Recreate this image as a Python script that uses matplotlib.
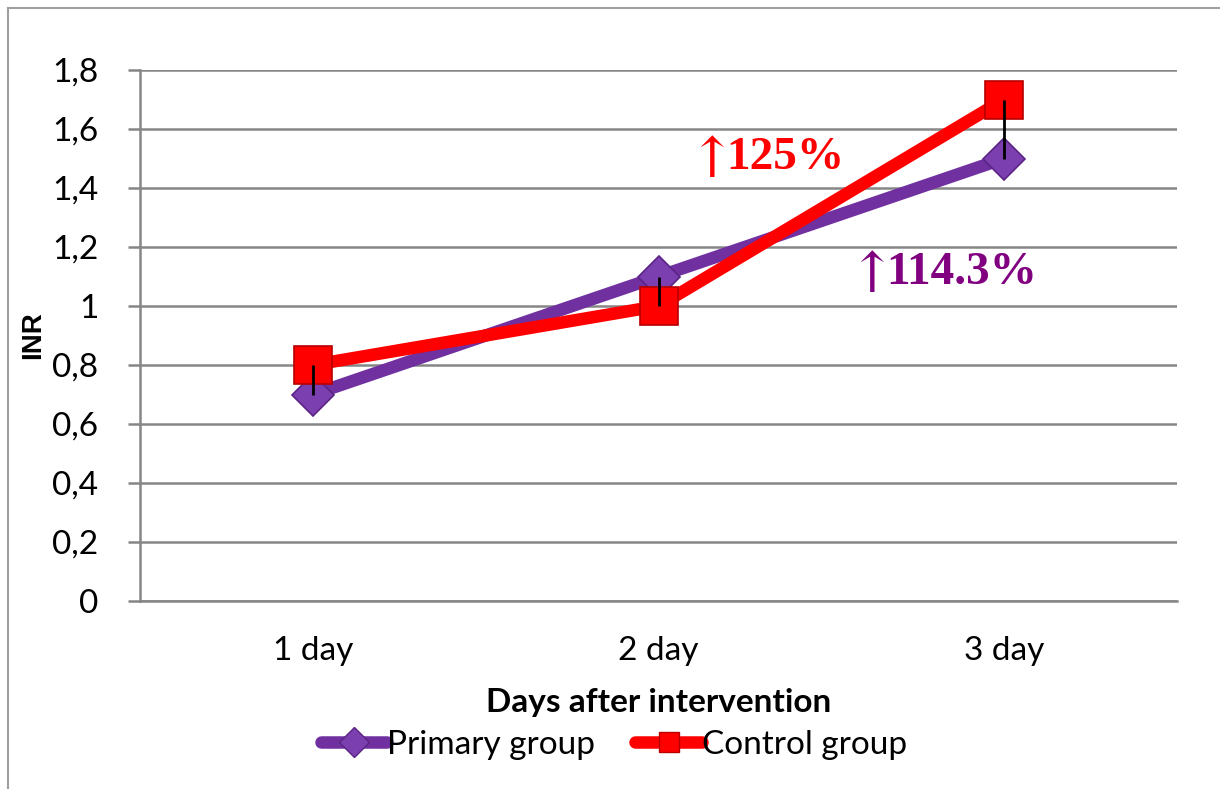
import matplotlib
matplotlib.use("Agg")
import matplotlib.pyplot as plt
from matplotlib.lines import Line2D

categories = ["1 day", "2 day", "3 day"]
primary = [0.7, 1.1, 1.5]
control = [0.8, 1.0, 1.7]
yticks = [0, 0.2, 0.4, 0.6, 0.8, 1.0, 1.2, 1.4, 1.6, 1.8]
ytick_labels = ["0", "0,2", "0,4", "0,6", "0,8", "1", "1,2", "1,4", "1,6", "1,8"]
ann_control = "125%"
ann_primary = "114.3%"

W, H = 1220, 789
fig = plt.figure(figsize=(W / 100, H / 100), dpi=100)
ax = fig.add_axes([140 / W, 1 - 601 / H, (1177 - 140) / W, (601 - 70) / H])

sans = ["Lato", "DejaVu Sans"]
serif = ["Liberation Serif", "DejaVu Serif"]
purple = "#7030A0"
red = "#FF0000"
grid_c = "#868686"

x = list(range(len(categories)))
ax.plot(x, primary, color=purple, lw=9, marker="D", ms=21,
        mfc="#7B3FB0", mec="#5A2485", mew=1.2, solid_capstyle="round", zorder=3)
ax.plot(x, control, color=red, lw=9, marker="s", ms=27,
        mfc=red, mec="#B80000", mew=1.2, solid_capstyle="round", zorder=4)
# high-low lines
ax.vlines(x, [min(a, b) for a, b in zip(primary, control)],
          [max(a, b) for a, b in zip(primary, control)],
          color="black", lw=2, zorder=5)

ax.set_xlim(-0.5, len(categories) - 0.5)
ax.set_ylim(0, 1.8)
ax.set_yticks(yticks)
ax.set_yticklabels(ytick_labels, family=sans, fontsize=24)
ax.set_xticks(x)
ax.set_xticklabels(categories, family=sans, fontsize=24)
ax.tick_params(axis="x", length=0, pad=25)
ax.tick_params(axis="y", length=9, width=1.8, color=grid_c, pad=21, direction="out")
ax.grid(axis="y", color=grid_c, lw=1.8)
ax.set_axisbelow(True)
for s in ["top", "right"]:
    ax.spines[s].set_visible(False)
for s in ["left", "bottom"]:
    ax.spines[s].set_color(grid_c)
    ax.spines[s].set_linewidth(1.8)

ax.set_xlabel("Days after intervention", family=sans, fontsize=24,
              fontweight="bold", labelpad=16)
ax.set_ylabel("INR", family=["Liberation Sans", "DejaVu Sans"], fontsize=20,
              fontweight="bold", labelpad=4)

t1 = ax.text(1.368, 1.502, ann_control, color=red, family=serif, fontsize=34,
             fontweight="bold", ha="center", va="center", zorder=6)
ax.annotate("↑", xy=(0, 0.42), xycoords=t1, xytext=(6, 0),
            textcoords="offset points", color=red,
            family=["DejaVu Serif"], fontsize=40, ha="right", va="center",
            zorder=6)
t2 = ax.text(1.876, 1.112, ann_primary, color="#800080", family=serif,
             fontsize=34, fontweight="bold", ha="center", va="center", zorder=6)
ax.annotate("↑", xy=(0, 0.42), xycoords=t2, xytext=(6, 0),
            textcoords="offset points", color="#800080",
            family=["DejaVu Serif"], fontsize=40, ha="right", va="center",
            zorder=6)

handles = [
    Line2D([], [], color=purple, lw=9, marker="D", ms=15, mfc="#7B3FB0",
           mec="#5A2485", solid_capstyle="round"),
    Line2D([], [], color=red, lw=9, marker="s", ms=15, mfc=red,
           mec="#B80000", solid_capstyle="round"),
]
fig.legend(handles, ["Primary group", "Control group"], loc="center",
           bbox_to_anchor=(614 / W, 1 - 745 / H), ncol=2, frameon=False,
           prop={"family": sans, "size": 24}, handlelength=2.0,
           handletextpad=0.0, columnspacing=1.2)

# outer chart frame
fig.add_artist(Line2D([8 / W, 1.0], [1 - 8 / H, 1 - 8 / H], color="#A0A0A0",
                      lw=1.5, transform=fig.transFigure))
fig.add_artist(Line2D([8 / W, 8 / W], [1 - 8 / H, 0.0], color="#A0A0A0",
                      lw=1.5, transform=fig.transFigure))

fig.savefig("out.png", dpi=100)
